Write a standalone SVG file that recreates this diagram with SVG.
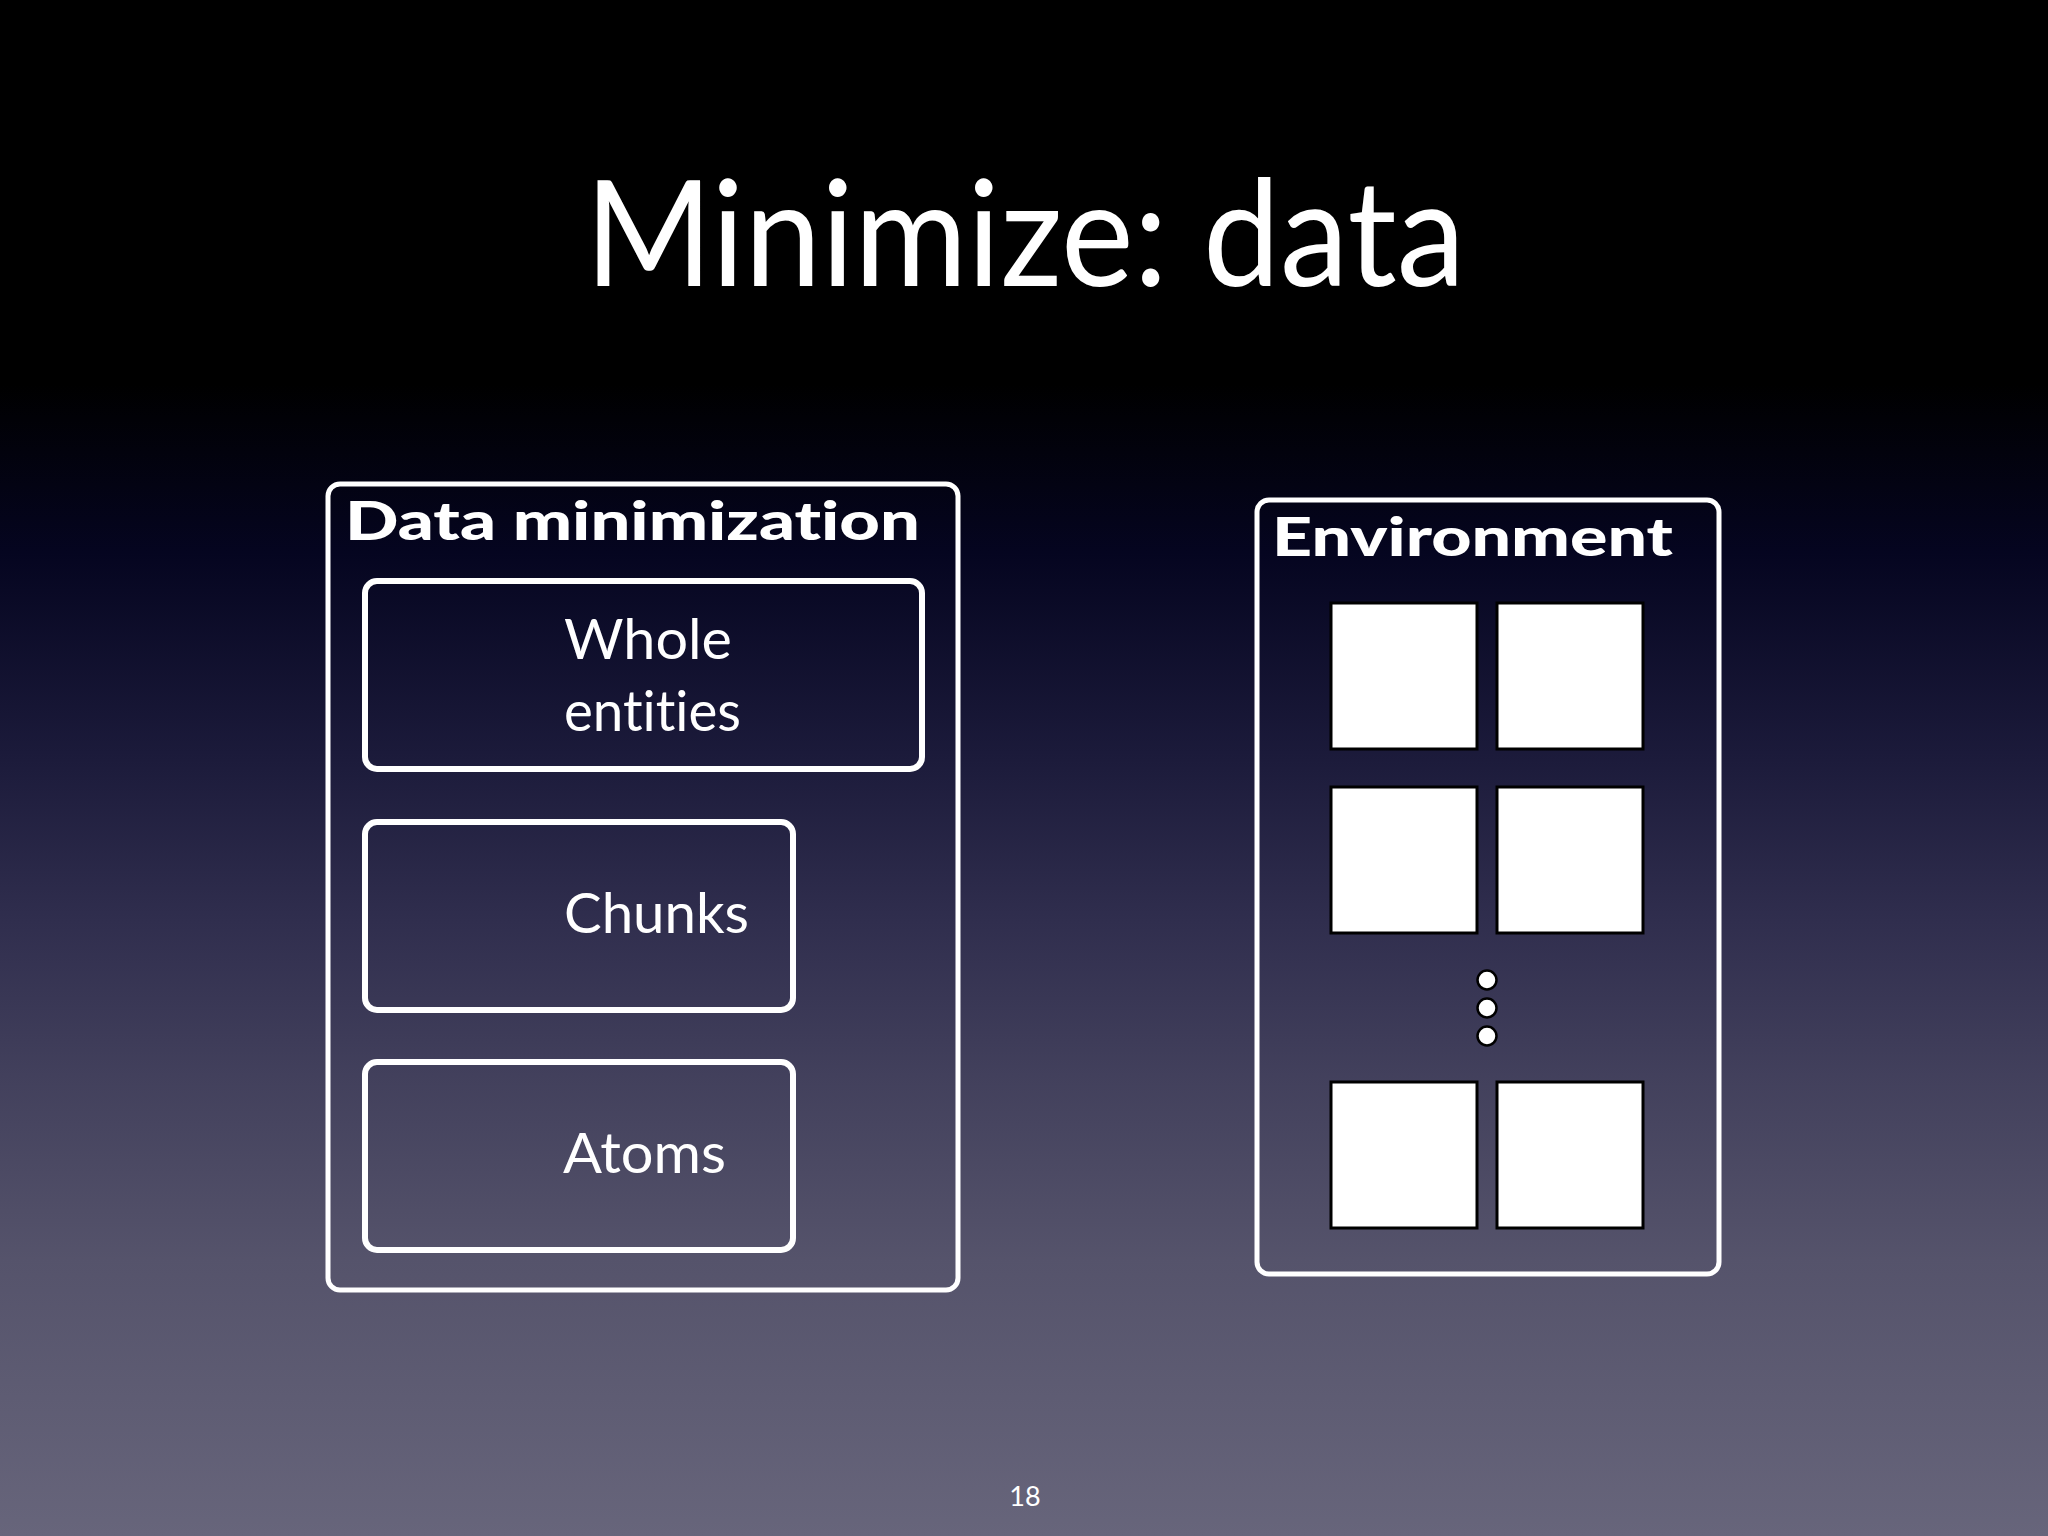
<svg xmlns="http://www.w3.org/2000/svg" width="2048" height="1536" viewBox="0 0 2048 1536">
<defs>
<linearGradient id="bg" x1="0" y1="0" x2="0" y2="1">
<stop offset="0" stop-color="#000000"/>
<stop offset="0.25" stop-color="#000000"/>
<stop offset="0.36" stop-color="#050520"/>
<stop offset="0.49" stop-color="#1b1a3a"/>
<stop offset="0.6" stop-color="#302e4e"/>
<stop offset="0.7" stop-color="#42405c"/>
<stop offset="0.82" stop-color="#55536b"/>
<stop offset="1" stop-color="#67657b"/>
</linearGradient>
<style>
.t{font-family:Lato,"Open Sans","Liberation Sans",sans-serif;fill:#ffffff;font-variant-ligatures:none;font-feature-settings:"liga" 0}
.title{font-size:148px}
.hd{font-size:54px;font-weight:900}
.lb{font-size:56px}
.outer{fill:none;stroke:#ffffff;stroke-width:5}
.inner{fill:none;stroke:#ffffff;stroke-width:6}
.sq{fill:#ffffff;stroke:#000000;stroke-width:3}
.dot{fill:#ffffff;stroke:#000000;stroke-width:2.5}
</style>
</defs>
<rect x="0" y="0" width="2048" height="1536" fill="url(#bg)"/>
<text class="t title" x="585" y="286" textLength="880" lengthAdjust="spacingAndGlyphs">Minimize: data</text>
<g id="data-minimization">
<rect class="outer" x="328" y="484" width="630" height="806" rx="12"/>
<text class="t hd" x="345" y="540" textLength="575" lengthAdjust="spacingAndGlyphs">Data minimization</text>
</g>
<g id="whole-entities">
<rect class="inner" x="365" y="581" width="557" height="188" rx="12"/>
<text class="t lb" x="564" y="659" textLength="168" lengthAdjust="spacingAndGlyphs">Whole</text>
<text class="t lb" x="564" y="731" textLength="177" lengthAdjust="spacingAndGlyphs">entities</text>
</g>
<g id="chunks">
<rect class="inner" x="365" y="822" width="428" height="188" rx="12"/>
<text class="t lb" x="564" y="933" textLength="185" lengthAdjust="spacingAndGlyphs">Chunks</text>
</g>
<g id="atoms">
<rect class="inner" x="365" y="1062" width="428" height="188" rx="12"/>
<text class="t lb" x="563" y="1173" textLength="163" lengthAdjust="spacingAndGlyphs">Atoms</text>
</g>
<g id="environment">
<rect class="outer" x="1257" y="500" width="462" height="774" rx="12"/>
<text class="t hd" x="1272" y="556" textLength="401" lengthAdjust="spacingAndGlyphs">Environment</text>
<rect class="sq" x="1331" y="603" width="146" height="146"/>
<rect class="sq" x="1497" y="603" width="146" height="146"/>
<rect class="sq" x="1331" y="787" width="146" height="146"/>
<rect class="sq" x="1497" y="787" width="146" height="146"/>
<circle class="dot" cx="1487" cy="980" r="9.5"/>
<circle class="dot" cx="1487" cy="1008" r="9.5"/>
<circle class="dot" cx="1487" cy="1036" r="9.5"/>
<rect class="sq" x="1331" y="1082" width="146" height="146"/>
<rect class="sq" x="1497" y="1082" width="146" height="146"/>
</g>
<g id="connectors"/>
<text class="t" x="1025" y="1506" font-size="27" text-anchor="middle">18</text>
</svg>
